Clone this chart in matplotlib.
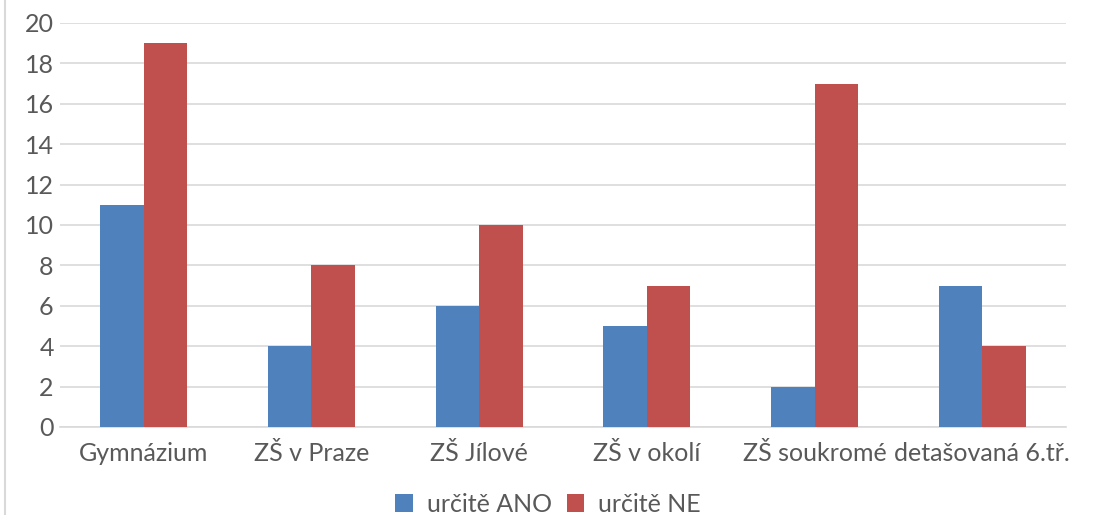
import matplotlib.pyplot as plt
import matplotlib.transforms as mtransforms
import numpy as np

CATEGORIES = ["Gymnázium", "ZŠ v Praze", "ZŠ Jílové", "ZŠ v okolí", "ZŠ soukromé", "detašovaná 6.tř."]
ANO = [11, 4, 6, 5, 2, 7]
NE = [19, 8, 10, 7, 17, 4]
SERIES = ["určitě ANO", "určitě NE"]
COLORS = ["#4F81BD", "#C0504D"]
TEXT = "#595959"

plt.rcParams["font.family"] = ["Lato", "DejaVu Sans"]

fig = plt.figure(figsize=(10.96, 5.15), dpi=100)
ax = fig.add_axes([60 / 1096, 1 - 427 / 515, (1066 - 60) / 1096, (427 - 23) / 515])

x = np.arange(len(CATEGORIES))
w = 0.26
ax.bar(x - w / 2, ANO, w, color=COLORS[0], label=SERIES[0], zorder=3)
ax.bar(x + w / 2, NE, w, color=COLORS[1], label=SERIES[1], zorder=3)

ax.set_xlim(-0.5, len(CATEGORIES) - 0.5)
ax.set_ylim(0, 20)
ax.set_yticks(range(0, 21, 2))
ax.set_xticks(x)
ax.set_xticklabels([])
ax.grid(axis="y", color="#D9D9D9", lw=1.2, zorder=0)
for s in ["top", "right", "left"]:
    ax.spines[s].set_visible(False)
ax.spines["bottom"].set_color("#D9D9D9")
ax.spines["bottom"].set_linewidth(1.2)
ax.tick_params(length=0, labelsize=18, colors=TEXT, pad=4.5)

# category labels on a common baseline
trans = mtransforms.blended_transform_factory(ax.transData, fig.transFigure)
for xi, name in zip(x, CATEGORIES):
    ax.text(xi, 1 - 461 / 515, name, transform=trans, ha="center", va="baseline",
            fontsize=18, color=TEXT)

leg = fig.legend(loc="center", bbox_to_anchor=(548 / 1096, 1 - 504 / 515), ncol=2, frameon=False,
                 fontsize=18, handlelength=0.7, handleheight=0.7, columnspacing=0.6, handletextpad=0.55)
for t in leg.get_texts():
    t.set_color(TEXT)

fig.add_artist(plt.Line2D([5 / 1096, 5 / 1096], [0, 1], color="#D9D9D9", lw=1.5))

fig.savefig("out.png", dpi=100)
